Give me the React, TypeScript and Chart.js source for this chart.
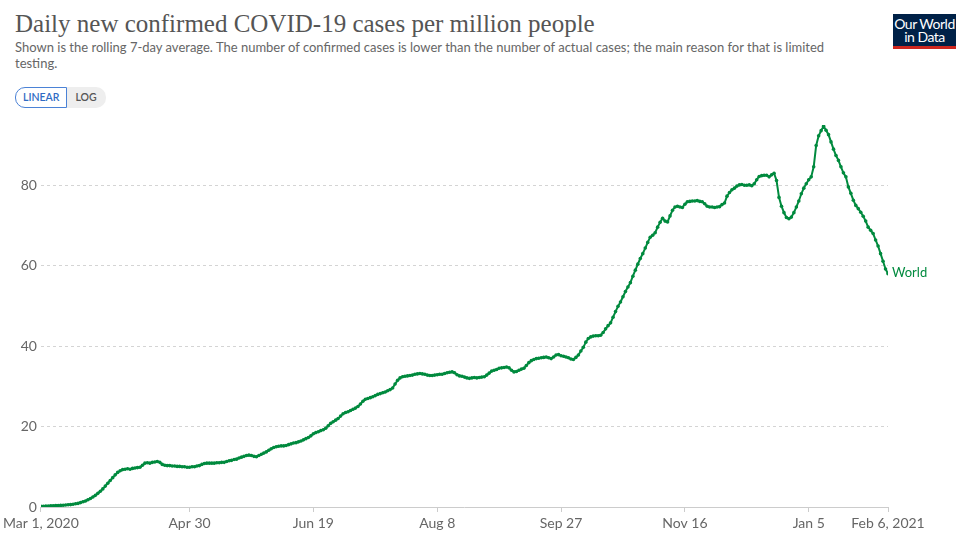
import React, { useEffect, useRef } from "react";
import { Chart, registerables } from "chart.js";

Chart.register(...registerables);

// Daily new confirmed COVID-19 cases per million (7-day avg), World, starting Mar 1, 2020
const startDate = "2020-03-01";
const worldValues: number[] = [
  // Mar 1-10
  0.2, 0.2, 0.25, 0.25, 0.3, 0.3, 0.35, 0.35, 0.4, 0.45,
  // Mar 11-20
  0.5, 0.55, 0.6, 0.7, 0.8, 0.9, 1.1, 1.3, 1.5, 1.8,
  // Mar 21-30
  2.1, 2.5, 2.9, 3.4, 3.9, 4.5, 5.2, 5.9, 6.6, 7.3,
  // Mar 31 - Apr 9
  8.0, 8.6, 9.0, 9.3, 9.4, 9.5, 9.4, 9.6, 9.7, 9.8,
  // Apr 10-19
  9.9, 10.4, 10.9, 11.0, 10.9, 11.1, 11.2, 11.3, 11.1, 10.6,
  // Apr 20-29
  10.4, 10.3, 10.3, 10.2, 10.2, 10.1, 10.1, 10.0, 10.0, 9.9,
  // Apr 30 - May 9
  9.9, 10.0, 10.0, 10.2, 10.3, 10.6, 10.8, 10.9, 10.9, 10.9,
  // May 10-19
  10.9, 11.0, 11.0, 11.1, 11.1, 11.3, 11.5, 11.6, 11.8, 11.9,
  // May 20-29
  12.2, 12.4, 12.6, 12.8, 12.9, 12.8, 12.6, 12.5, 12.8, 13.1,
  // May 30 - Jun 8
  13.4, 13.7, 14.1, 14.5, 14.8, 15.0, 15.1, 15.2, 15.2, 15.3,
  // Jun 9-18
  15.5, 15.7, 15.9, 16.0, 16.2, 16.4, 16.7, 17.0, 17.3, 17.7,
  // Jun 19-28
  18.2, 18.5, 18.7, 19.0, 19.2, 19.6, 20.2, 20.8, 21.2, 21.6,
  // Jun 29 - Jul 8
  22.0, 22.6, 23.2, 23.5, 23.7, 24.0, 24.3, 24.6, 25.0, 25.6,
  // Jul 9-18
  26.3, 26.8, 27.0, 27.2, 27.4, 27.7, 28.0, 28.2, 28.4, 28.6,
  // Jul 19-28
  28.9, 29.2, 29.6, 30.6, 31.5, 32.1, 32.4, 32.5, 32.6, 32.7,
  // Jul 29 - Aug 7
  32.8, 33.0, 33.1, 33.2, 33.1, 33.0, 32.8, 32.7, 32.7, 32.8,
  // Aug 8-17
  32.9, 33.0, 33.0, 33.2, 33.4, 33.5, 33.6, 33.4, 32.9, 32.6,
  // Aug 18-27
  32.5, 32.3, 32.1, 32.0, 32.1, 32.2, 32.1, 32.2, 32.3, 32.4,
  // Aug 28 - Sep 6
  32.8, 33.3, 33.8, 34.0, 34.2, 34.5, 34.6, 34.7, 34.8, 34.6,
  // Sep 7-16
  34.0, 33.6, 33.7, 34.0, 34.3, 34.5, 35.2, 35.9, 36.4, 36.7,
  // Sep 17-26
  36.9, 37.0, 37.1, 37.2, 37.3, 37.1, 36.9, 37.3, 37.8, 37.9,
  // Sep 27 - Oct 6
  37.6, 37.5, 37.3, 37.1, 36.8, 36.7, 37.2, 37.8, 38.8, 39.7,
  // Oct 7-16
  41.0, 41.9, 42.3, 42.5, 42.6, 42.6, 42.7, 43.4, 44.3, 45.1,
  // Oct 17-26
  45.8, 47.2, 48.6, 49.9, 51.0, 52.3, 53.6, 54.7, 55.8, 57.4,
  // Oct 27 - Nov 5
  58.9, 60.4, 61.8, 63.0, 64.4, 65.8, 67.1, 67.6, 68.2, 69.6,
  // Nov 6-15
  70.8, 71.8, 71.1, 70.9, 72.4, 73.8, 74.6, 74.8, 74.6, 74.5,
  // Nov 16-25
  75.3, 75.9, 76.0, 76.1, 76.1, 76.2, 76.0, 75.9, 75.4, 74.8,
  // Nov 26 - Dec 5
  74.6, 74.6, 74.5, 74.6, 74.7, 75.2, 75.6, 77.3, 78.2, 78.9,
  // Dec 6-15
  79.3, 79.8, 80.1, 80.2, 80.0, 80.0, 80.1, 79.9, 80.4, 81.4,
  // Dec 16-25
  82.2, 82.4, 82.5, 82.5, 82.1, 82.6, 83.0, 81.2, 77.0, 74.8,
  // Dec 26 - Jan 4
  73.2, 72.0, 71.7, 72.1, 73.2, 74.6, 76.1, 77.9, 79.3, 80.4,
  // Jan 5-14
  81.4, 82.1, 84.6, 89.9, 92.3, 93.6, 94.7, 93.7, 92.6, 90.8,
  // Jan 15-24
  89.0, 87.4, 86.2, 84.6, 83.1, 82.1, 79.6, 78.0, 76.3, 75.0,
  // Jan 25 - Feb 3
  74.2, 73.3, 72.3, 71.1, 69.6, 68.8, 68.0, 66.4, 64.9, 63.0,
  // Feb 4-6
  61.1, 59.2, 58.0,
];

const seriesName = "World";
const xTickDays: number[] = [0, 60, 110, 160, 210, 260, 310, 342];
const xTickLabels: string[] = ["Mar 1, 2020", "Apr 30", "Jun 19", "Aug 8", "Sep 27", "Nov 16", "Jan 5", "Feb 6, 2021"];
const yTicks: number[] = [0, 20, 40, 60, 80];

const GREEN = "#008a3e";
const FONT = "Lato, 'Noto Sans', sans-serif";

export default function App() {
  const canvasRef = useRef<HTMLCanvasElement | null>(null);

  useEffect(() => {
    if (!canvasRef.current) return;
    const data = worldValues.map((v, i) => ({ x: i, y: v }));

    const endLabel = {
      id: "endLabel",
      afterDatasetsDraw(chart: any) {
        const meta = chart.getDatasetMeta(0);
        const pt = meta.data[meta.data.length - 1];
        if (!pt) return;
        const ctx = chart.ctx;
        ctx.save();
        ctx.font = `13px ${FONT}`;
        ctx.fillStyle = GREEN;
        ctx.textBaseline = "middle";
        ctx.textAlign = "left";
        ctx.fillText(seriesName, pt.x + 4, pt.y - 1);
        ctx.restore();
      },
    };

    const chart = new Chart(canvasRef.current, {
      type: "line",
      data: {
        datasets: [
          {
            label: seriesName,
            data,
            borderColor: GREEN,
            backgroundColor: GREEN,
            borderWidth: 2,
            pointRadius: 1.8,
            pointBorderWidth: 0,
            pointBackgroundColor: GREEN,
            tension: 0,
          },
        ],
      },
      options: {
        animation: false,
        responsive: false,
        maintainAspectRatio: false,
        layout: { padding: { left: 0, right: 72, top: 125, bottom: 0 } },
        plugins: { legend: { display: false }, tooltip: { enabled: false } },
        scales: {
          x: {
            type: "linear",
            min: 0,
            max: 342,
            afterBuildTicks: (scale: any) => {
              scale.ticks = xTickDays.map((v) => ({ value: v }));
            },
            afterFit: (scale: any) => {
              scale.height = 31;
            },
            ticks: {
              autoSkip: false,
              maxRotation: 0,
              padding: 3,
              color: "#666",
              font: { family: FONT, size: 14 },
              callback: (value: any) => {
                const idx = xTickDays.indexOf(Number(value));
                return idx >= 0 ? xTickLabels[idx] : "";
              },
            },
            grid: {
              drawOnChartArea: false,
              drawTicks: true,
              tickLength: 5,
              color: "#ccc",
            },
            border: { display: true, color: "#ccc", width: 1 },
          },
          y: {
            min: 0,
            max: 95,
            afterBuildTicks: (scale: any) => {
              scale.ticks = yTicks.map((v) => ({ value: v }));
            },
            afterFit: (scale: any) => {
              scale.width = 36;
            },
            ticks: {
              padding: 4,
              color: "#666",
              font: { family: FONT, size: 14 },
            },
            grid: {
              drawTicks: false,
              color: (c: any) => (c.tick && c.tick.value === 0 ? "rgba(0,0,0,0)" : "#d4d4d4"),
              lineWidth: 1,
            },
            border: { display: false, dash: [3, 3] },
          },
        },
      } as any,
      plugins: [endLabel],
    });
    return () => chart.destroy();
  }, []);

  return (
    <div style={{ position: "fixed", left: 0, top: 0, width: 960, height: 538, background: "#fff", overflow: "hidden" }}>
      <div
        style={{
          position: "absolute",
          left: 15,
          top: 8,
          fontFamily: "'Liberation Serif', 'DejaVu Serif', serif",
          fontSize: 25,
          color: "#555",
          whiteSpace: "nowrap",
          lineHeight: "32px",
        }}
      >
        Daily new confirmed COVID-19 cases per million people
      </div>
      <div
        style={{
          position: "absolute",
          left: 15,
          top: 39,
          fontFamily: FONT,
          fontSize: 13,
          color: "#666",
          lineHeight: "16px",
          whiteSpace: "nowrap",
        }}
      >
        Shown is the rolling 7-day average. The number of confirmed cases is lower than the number of actual cases; the main reason for that is limited
        <br />
        testing.
      </div>
      <div style={{ position: "absolute", left: 15, top: 87, display: "flex", fontFamily: FONT, fontSize: 10.5, fontWeight: 600 }}>
        <div
          style={{
            border: "1px solid #4b82d6",
            borderRadius: "10px 0 0 10px",
            color: "#2f6bc4",
            background: "#fff",
            padding: "0 7px",
            height: 19,
            lineHeight: "19px",
          }}
        >
          LINEAR
        </div>
        <div
          style={{
            background: "#eee",
            borderRadius: "0 10px 10px 0",
            color: "#555",
            padding: "0 9px 0 8px",
            height: 21,
            lineHeight: "21px",
          }}
        >
          LOG
        </div>
      </div>
      <div
        style={{
          position: "absolute",
          left: 893,
          top: 14,
          width: 63,
          height: 35,
          background: "#002147",
          borderBottom: "3px solid #ce261e",
          color: "#fff",
          fontFamily: FONT,
          fontSize: 14,
          lineHeight: "13px",
          textAlign: "center",
          paddingTop: 3,
          boxSizing: "border-box",
          letterSpacing: -0.5,
        }}
      >
        Our World
        <br />
        in Data
      </div>
      <canvas ref={canvasRef} width={960} height={538} style={{ position: "absolute", left: 0, top: 0, width: 960, height: 538 }} />
    </div>
  );
}
